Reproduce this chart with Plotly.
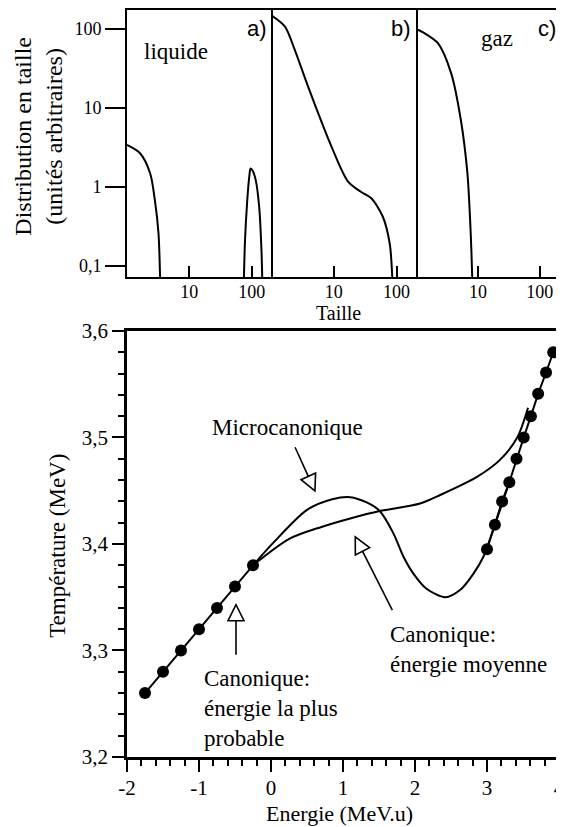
import plotly.graph_objects as go

# ---- top panels : size distributions (log-log) ----
# a) liquide : light fragments + heavy residue
liq_small_x = [1.0, 1.62, 2.35, 2.8, 3.2, 3.4, 3.45]
liq_small_y = [3.4, 2.67, 1.49, 0.68, 0.26, 0.07, 0.04]
liq_big_x = [74, 78, 85, 92, 96, 104, 116, 132, 144, 150]
liq_big_y = [0.04, 0.2, 0.68, 1.4, 1.72, 1.6, 1.23, 0.56, 0.15, 0.04]
# b) transition
trans_x = [1.0, 1.67, 2.4, 3.9, 9.2, 16.9, 27, 39.7, 60.5, 78, 85.6, 87]
trans_y = [150, 107, 54, 18.6, 3.24, 1.17, 0.87, 0.72, 0.42, 0.19, 0.07, 0.04]
# c) gaz
gas_x = [1.0, 1.38, 2.26, 3.69, 5.3, 6.77, 7.65, 8.1, 8.2]
gas_y = [100, 88, 66, 27.6, 7.05, 1.49, 0.26, 0.07, 0.04]

top_yticks = [0.1, 1, 10, 100]
top_yticktext = ["0,1", "1", "10", "100"]
top_xticks = [10, 100]
top_xticktext = ["10", "100"]

# ---- bottom panel : caloric curve ----
prob_low_e = [-1.75, -1.5, -1.25, -1.0, -0.75, -0.5, -0.25]
prob_low_t = [3.26, 3.28, 3.30, 3.32, 3.34, 3.36, 3.38]
prob_high_e = [3.0, 3.11, 3.21, 3.31, 3.41, 3.51, 3.61, 3.71, 3.82, 3.92]
prob_high_t = [3.395, 3.418, 3.44, 3.458, 3.48, 3.50, 3.52, 3.541, 3.561, 3.58]
micro_e = [-0.25, 0.03, 0.5, 0.85, 1.1, 1.33, 1.51, 1.70, 1.84, 1.98, 2.16, 2.42, 2.63, 2.81, 2.95, 3.11, 3.31]
micro_t = [3.38, 3.401, 3.432, 3.442, 3.444, 3.439, 3.431, 3.410, 3.388, 3.372, 3.358, 3.350, 3.357, 3.372, 3.388, 3.418, 3.458]
mean_e = [-0.25, 0.26, 0.7, 1.1, 1.51, 2.07, 2.35, 2.86, 3.18, 3.42, 3.57]
mean_t = [3.38, 3.405, 3.416, 3.424, 3.431, 3.438, 3.446, 3.463, 3.479, 3.50, 3.528]

bot_xticks = [-2, -1, 0, 1, 2, 3, 4]
bot_xticktext = ["-2", "-1", "0", "1", "2", "3", "4"]
bot_yticks = [3.2, 3.3, 3.4, 3.5, 3.6]
bot_yticktext = ["3,2", "3,3", "3,4", "3,5", "3,6"]

SERIF = "Liberation Serif, Times New Roman, serif"
SANS = "Liberation Sans, Arial, sans-serif"


# hollow-head arrow drawn in pixels around its tip (dx, dy = screen direction tail->tip)
def arrow_shapes(tip_x, tip_y, dx, dy, length, head_len=16, head_w=16):
    n = (dx * dx + dy * dy) ** 0.5
    ux, uy = dx / n, -dy / n
    px, py = -uy, ux
    bx, by = -ux * head_len, -uy * head_len
    tri = (f"M 0,0 L {bx + px * head_w / 2:.2f},{by + py * head_w / 2:.2f} "
           f"L {bx - px * head_w / 2:.2f},{by - py * head_w / 2:.2f} Z")
    shaft = f"M {bx:.2f},{by:.2f} L {-ux * length:.2f},{-uy * length:.2f}"
    common = dict(type="path", xref="x4", yref="y4", xsizemode="pixel", ysizemode="pixel",
                  xanchor=tip_x, yanchor=tip_y, line=dict(color="black", width=1.6))
    return [dict(path=shaft, **common), dict(path=tri, fillcolor="white", **common)]


def main():
    fig = go.Figure()
    line = dict(color="black", width=2, shape="spline", smoothing=0.8)

    fig.add_trace(go.Scatter(x=liq_small_x, y=liq_small_y, mode="lines", line=line, xaxis="x", yaxis="y"))
    fig.add_trace(go.Scatter(x=liq_big_x, y=liq_big_y, mode="lines", line=line, xaxis="x", yaxis="y"))
    fig.add_trace(go.Scatter(x=trans_x, y=trans_y, mode="lines", line=line, xaxis="x2", yaxis="y2"))
    fig.add_trace(go.Scatter(x=gas_x, y=gas_y, mode="lines", line=line, xaxis="x3", yaxis="y3"))

    fig.add_trace(go.Scatter(x=micro_e, y=micro_t, mode="lines", line=line, xaxis="x4", yaxis="y4"))
    fig.add_trace(go.Scatter(x=mean_e, y=mean_t, mode="lines", line=line, xaxis="x4", yaxis="y4"))
    dots = dict(color="black", size=12)
    fig.add_trace(go.Scatter(x=prob_low_e, y=prob_low_t, mode="lines+markers", marker=dots,
                             line=dict(color="black", width=2), xaxis="x4", yaxis="y4"))
    fig.add_trace(go.Scatter(x=prob_high_e, y=prob_high_t, mode="lines+markers", marker=dots,
                             line=dict(color="black", width=2), xaxis="x4", yaxis="y4"))

    top_dom = [0.6426, 1.0]
    top_x = dict(type="log", range=[0, 2.31], tickvals=top_xticks, ticktext=top_xticktext,
                 ticks="inside", ticklen=11, tickwidth=1.5, tickcolor="black", ticklabelstandoff=-3,
                 showline=True, linewidth=2, linecolor="black", mirror=True,
                 showgrid=False, zeroline=False, tickfont=dict(family=SERIF, size=18, color="black"))
    top_y = dict(type="log", range=[-1.139, 2.24], domain=top_dom, showgrid=False, zeroline=False,
                 linecolor="black")

    # the page body keeps an 8 px margin, so the figure is made 8 px smaller
    fig.update_layout(
        template="none",
        width=556, height=819,
        margin=dict(l=119, r=5, t=2, b=70),
        plot_bgcolor="white", paper_bgcolor="white",
        showlegend=False,
        font=dict(family=SERIF, color="black"),
        xaxis=dict(top_x, domain=[0, 0.3333], anchor="y"),
        xaxis2=dict(top_x, domain=[0.3333, 0.669], anchor="y2"),
        xaxis3=dict(top_x, domain=[0.669, 1.0], anchor="y3"),
        yaxis=dict(top_y, anchor="x", tickvals=top_yticks, ticktext=top_yticktext,
                   showline=True, linewidth=2, mirror=True,
                   ticks="outside", ticklen=20, tickwidth=2, tickcolor="black",
                   tickfont=dict(family=SERIF, size=18, color="black")),
        yaxis2=dict(top_y, anchor="x2", side="right", showline=True, linewidth=1.5,
                    showticklabels=False, ticks=""),
        yaxis3=dict(top_y, anchor="x3", side="right", showline=True, linewidth=2,
                    showticklabels=False, ticks=""),
        xaxis4=dict(domain=[0, 1], anchor="y4", range=[-2, 4], tickvals=bot_xticks, ticktext=bot_xticktext,
                    ticks="outside", ticklen=12, tickwidth=2, tickcolor="black", ticklabeloverflow="allow",
                    ticklabelstandoff=-2,
                    minor=dict(tickmode="linear", tick0=-2, dtick=0.2, ticks="outside",
                               ticklen=6, tickwidth=1.5, tickcolor="black"),
                    showline=True, linewidth=2.5, linecolor="black", mirror=True,
                    showgrid=False, zeroline=False, tickfont=dict(family=SERIF, size=21, color="black")),
        yaxis4=dict(domain=[0, 0.5703], anchor="x4", range=[3.2, 3.6], tickvals=bot_yticks, ticktext=bot_yticktext,
                    ticks="outside", ticklen=12, tickwidth=2, tickcolor="black",
                    minor=dict(tickmode="linear", tick0=3.2, dtick=0.02, ticks="outside",
                               ticklen=6, tickwidth=1.5, tickcolor="black"),
                    showline=True, linewidth=2.5, linecolor="black", mirror=True,
                    showgrid=False, zeroline=False, tickfont=dict(family=SERIF, size=21, color="black")),
    )

    # texts
    c = dict(showarrow=False, xanchor="center", yanchor="middle")
    txt = dict(c, font=dict(family=SERIF, size=23, color="black"))
    letter = dict(c, font=dict(family=SANS, size=22, color="black"))
    ann = [
        dict(letter, text="a)", xref="paper", yref="paper", x=0.301, y=0.9746),
        dict(letter, text="b)", xref="paper", yref="paper", x=0.634, y=0.9746),
        dict(letter, text="c)", xref="paper", yref="paper", x=0.972, y=0.9746),
        dict(txt, text="liquide", xref="paper", yref="paper", x=0.113, y=0.944),
        dict(txt, text="gaz", xref="paper", yref="paper", x=0.857, y=0.962),
        dict(c, text="Taille", xref="paper", yref="paper", x=0.49, y=0.594,
             font=dict(family=SERIF, size=20, color="black")),
        dict(c, text="Distribution en taille<br>(unités arbitraires)", textangle=-90,
             xref="paper", yref="paper", x=-0.205, y=0.831,
             font=dict(family=SERIF, size=24, color="black")),
        dict(txt, text="Température (MeV)", textangle=-90, xref="paper", yref="paper", x=-0.16, y=0.2825),
        dict(c, text="Energie (MeV.u)", xref="paper", yref="paper", x=0.493, y=-0.0755,
             font=dict(family=SERIF, size=22, color="black")),
        dict(txt, text="Microcanonique", xref="x4", yref="y4", x=0.236, y=3.509),
        dict(txt, text="Canonique:<br>énergie moyenne", align="left", xanchor="left",
             xref="x4", yref="y4", x=1.625, y=3.3005),
        dict(txt, text="Canonique:<br>énergie la plus<br>probable", align="left", xanchor="left",
             xref="x4", yref="y4", x=-0.958, y=3.246),
    ]
    fig.update_layout(annotations=ann)

    shapes = []
    shapes += arrow_shapes(0.61, 3.4498, 20, 44, 48)
    shapes += arrow_shapes(1.17, 3.4066, -37, -73, 82)
    shapes += arrow_shapes(-0.486, 3.343, 0, -1, 50)
    fig.update_layout(shapes=shapes)

    fig.write_html("out.html")


if __name__ == "__main__":
    main()
